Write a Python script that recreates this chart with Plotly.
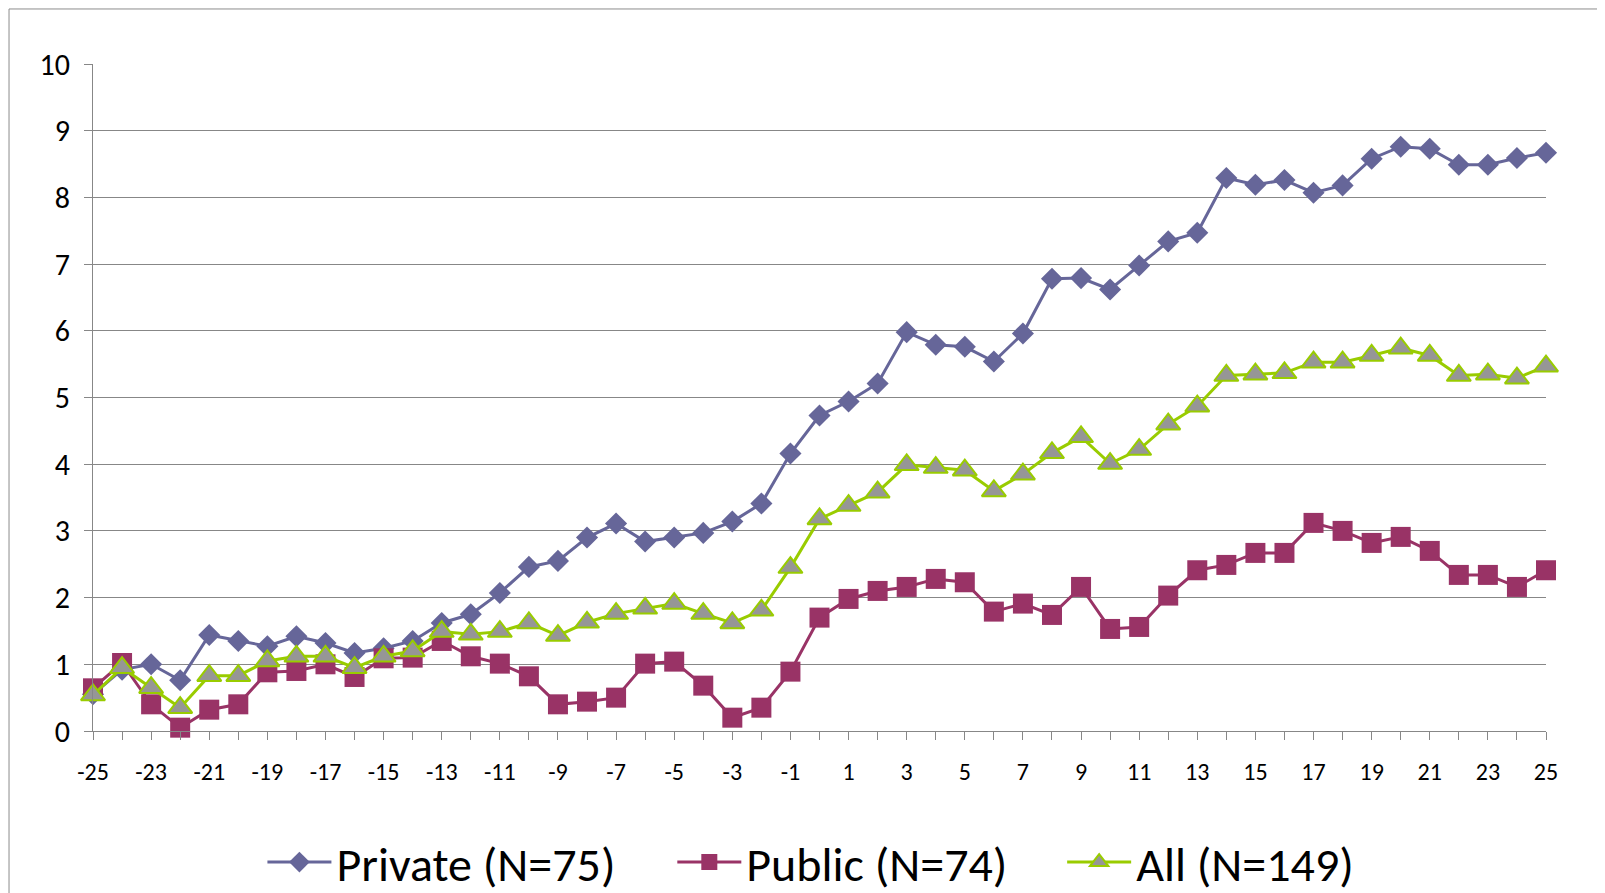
import plotly.graph_objects as go

# event time (months relative to event)
months = list(range(-25, 26))

private = [0.55, 0.92, 1.00, 0.76, 1.44, 1.35, 1.27, 1.42, 1.32, 1.17,
           1.24, 1.35, 1.62, 1.75, 2.07, 2.46, 2.55, 2.90, 3.11, 2.84,
           2.90, 2.97, 3.14, 3.41, 4.16, 4.73, 4.94, 5.21, 5.98, 5.79,
           5.76, 5.54, 5.96, 6.78, 6.79, 6.62, 6.98, 7.34, 7.47, 8.29,
           8.19, 8.26, 8.07, 8.18, 8.58, 8.76, 8.73, 8.49, 8.49, 8.59, 8.67]

public = [0.64, 1.02, 0.40, 0.05, 0.32, 0.40, 0.88, 0.90, 1.00, 0.81,
          1.09, 1.10, 1.35, 1.12, 1.01, 0.82, 0.40, 0.44, 0.50, 1.01,
          1.04, 0.68, 0.20, 0.35, 0.89, 1.70, 1.98, 2.10, 2.16, 2.28,
          2.23, 1.79, 1.91, 1.74, 2.16, 1.53, 1.56, 2.03, 2.41, 2.49,
          2.67, 2.67, 3.12, 3.00, 2.82, 2.91, 2.70, 2.34, 2.34, 2.16, 2.41]

all_firms = [0.54, 0.95, 0.65, 0.35, 0.83, 0.83, 1.05, 1.12, 1.12, 0.95,
             1.12, 1.20, 1.49, 1.45, 1.49, 1.62, 1.43, 1.63, 1.76, 1.84,
             1.91, 1.76, 1.62, 1.81, 2.45, 3.18, 3.38, 3.58, 3.99, 3.95,
             3.91, 3.60, 3.85, 4.17, 4.41, 4.01, 4.22, 4.60, 4.87, 5.33,
             5.35, 5.37, 5.53, 5.53, 5.63, 5.74, 5.63, 5.33, 5.35, 5.29, 5.47]

series_names = ["Private (N=75)", "Public (N=74)", "All (N=149)"]

x_ticktext = [str(m) if m % 2 else "" for m in months]
y_ticks = list(range(0, 11))

FONT = "Carlito, Calibri, Lato, sans-serif"
GRID = "#878787"

fig = go.Figure()
fig.add_trace(go.Scatter(
    x=months, y=private, name=series_names[0], mode="lines+markers",
    line=dict(color="#666699", width=3),
    marker=dict(symbol="diamond", size=17, color="#666699"),
    cliponaxis=False, legend="legend",
))
fig.add_trace(go.Scatter(
    x=months, y=public, name=series_names[1], mode="lines+markers",
    line=dict(color="#993366", width=3),
    marker=dict(symbol="square", size=20, color="#993366"),
    cliponaxis=False, legend="legend2",
))
fig.add_trace(go.Scatter(
    x=months, y=all_firms, name=series_names[2], mode="lines+markers",
    line=dict(color="#99CC00", width=3),
    marker=dict(symbol="triangle-up", size=21, color="#969696",
                line=dict(color="#99CC00", width=2)),
    cliponaxis=False, legend="legend3",
))

# outer chart frame
fig.add_shape(type="rect", xref="paper", yref="paper",
              x0=-0.0578, x1=1.2, y0=-0.5, y1=1.0825,
              line=dict(color="#8c8c8c", width=1), layer="below")


def legend_at(x):
    return dict(orientation="h", x=x, xanchor="left", y=-0.197, yanchor="middle",
                font=dict(size=48), itemwidth=64, bgcolor="rgba(0,0,0,0)")


# page body has an 8px margin, so the figure is shifted by that amount
fig.update_layout(
    width=1605, height=950,
    margin=dict(l=85, r=67, t=56, b=227),
    paper_bgcolor="white", plot_bgcolor="white",
    font=dict(family=FONT, color="black"),
    showlegend=True,
    legend=legend_at(0.1166),
    legend2=legend_at(0.3987),
    legend3=legend_at(0.667),
    xaxis=dict(range=[-25, 25], tickmode="array", tickvals=months, ticktext=x_ticktext,
               showgrid=False, zeroline=False, showline=True, linecolor=GRID,
               ticks="outside", ticklen=8, tickcolor=GRID,
               tickfont=dict(size=24), ticklabelstandoff=11),
    yaxis=dict(range=[0, 10], tickmode="array", tickvals=y_ticks,
               showgrid=True, gridcolor=GRID, gridwidth=1, zeroline=False,
               showline=True, linecolor=GRID, ticks="outside", ticklen=8,
               tickcolor=GRID, tickfont=dict(size=30), ticklabelstandoff=8),
)

fig.write_html("out.html")
